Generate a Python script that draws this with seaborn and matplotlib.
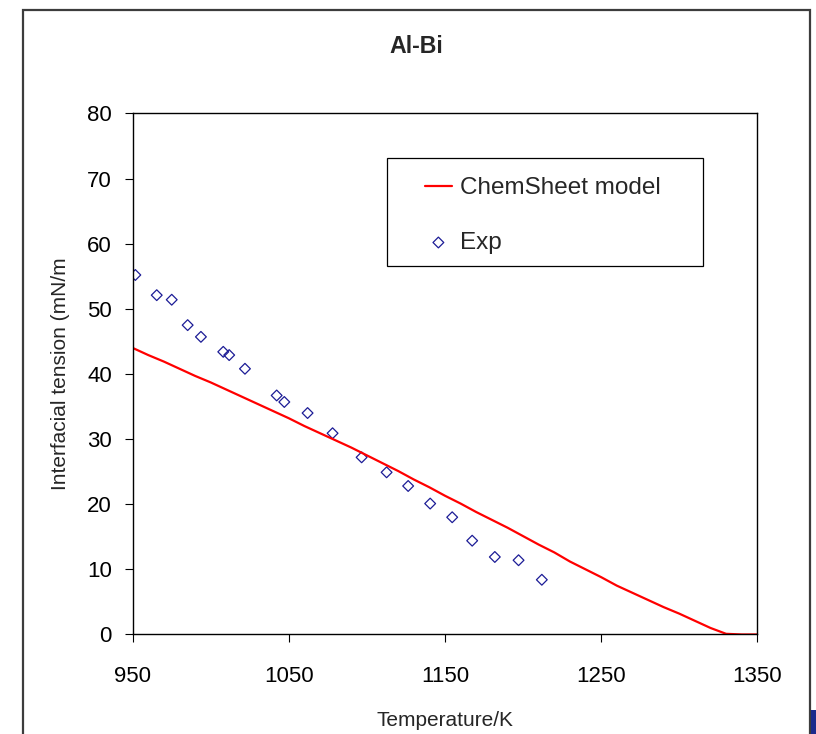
import numpy as np
import pandas as pd
import matplotlib
matplotlib.use("Agg")
import matplotlib.pyplot as plt
import matplotlib.patches as mpatches
import seaborn as sns

# ChemSheet model curve (Temperature/K, mN/m)
model_T = [950, 960, 970, 980, 990, 1000, 1010, 1020, 1030, 1040, 1050,
           1060, 1070, 1080, 1090, 1100, 1110, 1120, 1130, 1140, 1150,
           1160, 1170, 1180, 1190, 1200, 1210, 1220, 1230, 1240, 1250,
           1260, 1270, 1280, 1290, 1300, 1310, 1320, 1330, 1340, 1350]
model_sigma = [44.0, 42.9, 41.9, 40.8, 39.7, 38.7, 37.6, 36.5, 35.4, 34.3, 33.2,
               32.0, 30.9, 29.8, 28.7, 27.5, 26.3, 25.1, 23.8, 22.6, 21.3,
               20.1, 18.8, 17.6, 16.4, 15.1, 13.8, 12.6, 11.2, 10.0, 8.8,
               7.5, 6.4, 5.3, 4.2, 3.2, 2.1, 1.0, 0.1, 0.0, 0.0]

# experimental points
exp_T = [951.7, 965.4, 975.0, 985.2, 993.7, 1008.0, 1011.8, 1021.9, 1042.2,
         1047.1, 1062.0, 1078.0, 1096.6, 1112.6, 1126.4, 1140.5, 1154.6,
         1167.4, 1181.9, 1197.1, 1212.0]
exp_sigma = [55.2, 52.1, 51.4, 47.5, 45.7, 43.4, 42.9, 40.8, 36.7,
             35.7, 34.0, 30.9, 27.2, 24.9, 22.8, 20.1, 18.0,
             14.4, 11.9, 11.4, 8.4]

x_ticks = [950, 1050, 1150, 1250, 1350]
y_ticks = [0, 10, 20, 30, 40, 50, 60, 70, 80]

sns.set_style("ticks")
plt.rcParams['font.family'] = ['Liberation Sans', 'DejaVu Sans']

model = pd.DataFrame({"T": model_T, "sigma": model_sigma})
exp = pd.DataFrame({"T": exp_T, "sigma": exp_sigma})

fig = plt.figure(figsize=(8.16, 7.34), dpi=100)
ax = fig.add_axes([0.1626, 0.1356, 0.7655, 0.7098])

sns.lineplot(data=model, x="T", y="sigma", ax=ax, color="#ff0000",
             linewidth=1.6, label="ChemSheet model")
sns.scatterplot(data=exp, x="T", y="sigma", ax=ax, marker="D", s=30,
                facecolor="none", edgecolor="#1c1c96", linewidth=0.9,
                label="Exp")

ax.set_xlim(950, 1350)
ax.set_ylim(0, 80)
ax.set_xticks(x_ticks)
ax.set_yticks(y_ticks)
ax.tick_params(axis="both", direction="out", length=6, width=0.8,
               labelsize=16, colors="black")
ax.tick_params(axis="x", pad=17)
ax.tick_params(axis="y", pad=9)
for s in ax.spines.values():
    s.set_visible(True)
    s.set_color("black")
    s.set_linewidth(1.0)

ax.set_xlabel("Temperature/K", fontsize=15, labelpad=17)
ax.set_ylabel("Interfacial tension (mN/m", fontsize=15, labelpad=12)

fig.text(416.3 / 816, 1 - 53.3 / 734, "Al-Bi", fontsize=16.7,
         fontweight="bold", ha="center", va="baseline")

leg = ax.legend(loc="upper left", bbox_to_anchor=(0.468, 0.878),
                frameon=False, fontsize=17.5, handlelength=1.1,
                handletextpad=0.35, labelspacing=1.35, borderpad=0,
                borderaxespad=0)
ax.add_patch(mpatches.Rectangle((0.4071, 0.7080), 0.5060, 0.2075,
                                transform=ax.transAxes, fill=False,
                                edgecolor="black", linewidth=0.9, zorder=5))

# outer chart frame
fig.add_artist(mpatches.Rectangle((23 / 816, -0.05), (810 - 23) / 816,
                                  1 - 10 / 734 + 0.05,
                                  transform=fig.transFigure, fill=False,
                                  edgecolor="#3c3c3c", linewidth=1.6))
fig.add_artist(mpatches.Rectangle((811 / 816, 0), 5 / 816, 24 / 734,
                                  transform=fig.transFigure,
                                  facecolor="#1c2a8c", edgecolor="none"))

fig.savefig("out.png", dpi=100)
